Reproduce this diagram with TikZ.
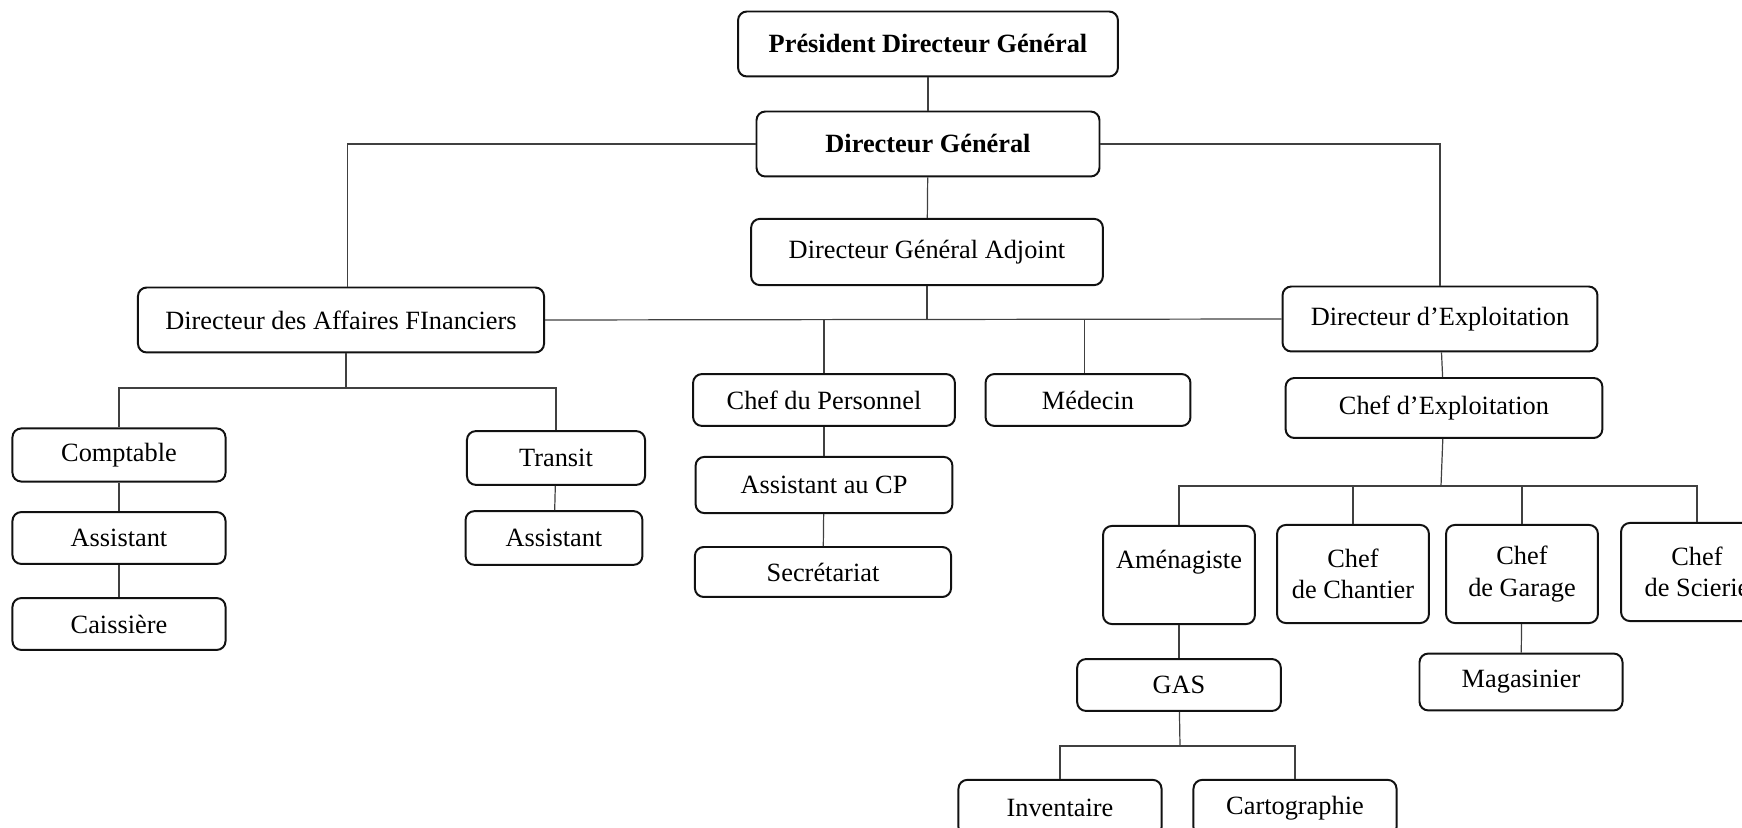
\documentclass[tikz,border=0pt]{standalone}
\usepackage{fontspec}
\setmainfont{Liberation Serif}
\usepackage{tikz}
\definecolor{orgDark}{HTML}{111111}
\definecolor{orgLine}{HTML}{404040}
\tikzset{
  boxOrg/.style={rectangle, rounded corners=4pt, draw=orgDark, line width=0.9pt,
                 fill=white, align=center, inner sep=2pt,
                 font=\fontsize{12}{14.2}\selectfont},
  boxBold/.style={boxOrg, font=\fontsize{12}{14.2}\selectfont\bfseries},
  lineOrg/.style={draw=orgLine, line width=0.55pt},
}
\begin{document}
\begin{tikzpicture}[x=0.016cm, y=-0.016cm]
    \useasboundingbox (0,0) rectangle (1742,828);
    % direction
    \node[boxBold, minimum width=6.08cm, minimum height=1.04cm] (pdg) at (928,44) {Président Directeur Général};
    \node[boxBold, minimum width=5.49cm, minimum height=1.04cm] (dg) at (928,144) {Directeur Général};
    \node[boxOrg, minimum width=5.63cm, minimum height=1.06cm] (dga) at (927,252) {Directeur Général Adjoint};
    \node[boxOrg, minimum width=6.50cm, minimum height=1.04cm] (daf) at (341,320) {Directeur des Affaires FInanciers};
    \node[boxOrg, minimum width=5.04cm, minimum height=1.04cm] (de) at (1440,319) {Directeur d’Exploitation};
    % finances
    \node[boxOrg, minimum width=3.41cm, minimum height=0.85cm] (comptable) at (119,455) {Comptable};
    \node[boxOrg, minimum width=3.41cm, minimum height=0.83cm] (assistF) at (119,538) {Assistant};
    \node[boxOrg, minimum width=3.41cm, minimum height=0.83cm] (caissiere) at (119,624) {Caissière};
    \node[boxOrg, minimum width=2.85cm, minimum height=0.86cm] (transit) at (556,458) {Transit};
    \node[boxOrg, minimum width=2.83cm, minimum height=0.86cm] (assistT) at (554,538) {Assistant};
    % personnel
    \node[boxOrg, minimum width=4.19cm, minimum height=0.83cm] (cdp) at (824,400) {Chef du Personnel};
    \node[boxOrg, minimum width=4.11cm, minimum height=0.90cm] (acp) at (824,485) {Assistant au CP};
    \node[boxOrg, minimum width=4.10cm, minimum height=0.80cm] (secr) at (823,572) {Secrétariat};
    \node[boxOrg, minimum width=3.28cm, minimum height=0.83cm] (medecin) at (1088,400) {Médecin};
    % exploitation
    \node[boxOrg, minimum width=5.07cm, minimum height=0.96cm] (ce) at (1444,408) {Chef d’Exploitation};
    \node[boxOrg, minimum width=2.43cm, minimum height=1.57cm] (amen) at (1179,575) {Aménagiste\\\mbox{}};
    \node[boxOrg, minimum width=2.43cm, minimum height=1.57cm] (chantier) at (1353,574) {Chef\\de Chantier};
    \node[boxOrg, minimum width=2.43cm, minimum height=1.57cm] (garage) at (1522,574) {Chef\\de Garage};
    \node[boxOrg, minimum width=2.43cm, minimum height=1.57cm] (scierie) at (1697,572) {Chef\\de Scierie};
    \node[boxOrg, minimum width=3.26cm, minimum height=0.83cm] (gas) at (1179,685) {GAS};
    \node[boxOrg, minimum width=3.25cm, minimum height=0.91cm] (magasin) at (1521,682) {Magasinier};
    \node[boxOrg, minimum width=3.25cm, minimum height=0.90cm] (inv) at (1060,808) {Inventaire};
    \node[boxOrg, minimum width=3.25cm, minimum height=0.90cm] (carto) at (1295,808) {Cartographie};

    % connectors
    \coordinate (busM) at (927,320);
    \coordinate (busF) at (346,388);
    \coordinate (busE) at (1441,486);
    \coordinate (busG) at (1180,746);
    \draw[lineOrg] (pdg) -- (dg);
    \draw[lineOrg] (dg) -- (dga);
    \draw[lineOrg] (dg.west) -| ([xshift=0.11cm]daf.north);
    \draw[lineOrg] (dg.east) -| (de.north);
    \draw[lineOrg] (daf.east) -- (de.west);
    \draw[lineOrg] (dga) -- (busM);
    \draw[lineOrg] (cdp.north) -- (cdp.north |- busM);
    \draw[lineOrg] ([xshift=-0.06cm]medecin.north) -- ([xshift=-0.06cm]medecin.north |- busM);
    \draw[lineOrg] (cdp) -- (acp);
    \draw[lineOrg] (acp) -- (secr);
    \draw[lineOrg] (daf.south -| busF) -- (busF);
    \draw[lineOrg] (comptable) |- (busF) -| (transit);
    \draw[lineOrg] (comptable) -- (assistF);
    \draw[lineOrg] (assistF) -- (caissiere);
    \draw[lineOrg] (transit) -- (assistT);
    \draw[lineOrg] (de) -- (ce);
    \draw[lineOrg] (ce) -- (busE);
    \draw[lineOrg] (amen) |- (busE) -| (scierie);
    \draw[lineOrg] (chantier.north) -- (chantier.north |- busE);
    \draw[lineOrg] (garage.north) -- (garage.north |- busE);
    \draw[lineOrg] (amen) -- (gas);
    \draw[lineOrg] (garage) -- (magasin);
    \draw[lineOrg] (gas) -- (busG);
    \draw[lineOrg] (inv) |- (busG) -| (carto);
\end{tikzpicture}
\end{document}
